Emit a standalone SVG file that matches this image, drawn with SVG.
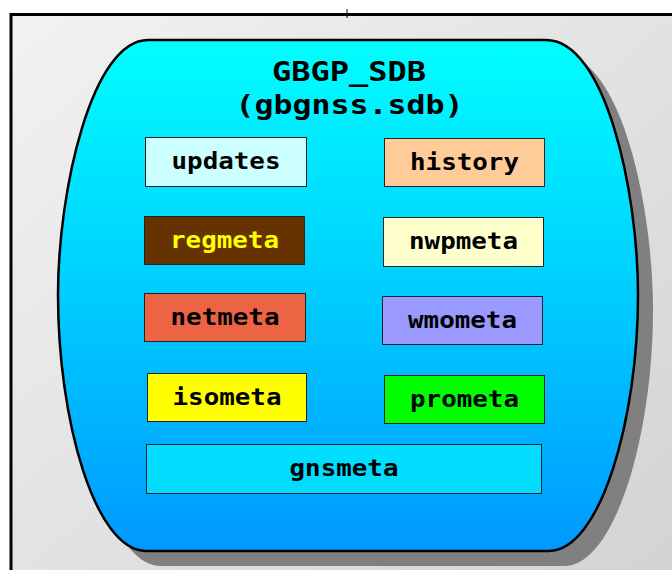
<svg xmlns="http://www.w3.org/2000/svg" width="672" height="570" viewBox="0 0 672 570">
  <defs>
    <linearGradient id="frameFill" x1="0" y1="0" x2="1" y2="1">
      <stop offset="0" stop-color="#f2f2f2"/>
      <stop offset="1" stop-color="#d2d2d2"/>
    </linearGradient>
    <linearGradient id="dbFill" x1="0" y1="0" x2="0" y2="1">
      <stop offset="0" stop-color="#00ffff"/>
      <stop offset="1" stop-color="#0099ff"/>
    </linearGradient>
    <path id="barrel" d="M148,40 L546,40 C605,40 638,190 638,295 C638,420 600,551 549,551 L146,551 C95,551 58,420 58,295 C58,190 92,40 148,40 Z"/>
  </defs>
  <style>
    .box { stroke: #222; stroke-width: 1; }
    .lbl { font-family: "DejaVu Sans Mono", "Liberation Mono", monospace; font-weight: bold; font-size: 23px; text-anchor: middle; fill: #000; }
    .title { font-family: "DejaVu Sans Mono", "Liberation Mono", monospace; font-weight: bold; font-size: 27px; text-anchor: middle; fill: #000; }
  </style>

  <!-- background frame -->
  <rect x="0" y="0" width="672" height="570" fill="#ffffff"/>
  <rect x="11" y="14.5" width="680" height="580" fill="url(#frameFill)" stroke="#000" stroke-width="3"/>
  <line x1="347" y1="9" x2="347" y2="18" stroke="#000" stroke-width="1"/>

  <!-- database container -->
  <g id="gbgp_sdb">
    <use href="#barrel" transform="translate(15,15)" fill="#808080"/>
    <use href="#barrel" fill="url(#dbFill)" stroke="#000" stroke-width="2.5"/>
    <text class="title" x="349" y="81" textLength="154" lengthAdjust="spacingAndGlyphs">GBGP_SDB</text>
    <text class="title" x="349.5" y="114" textLength="228" lengthAdjust="spacingAndGlyphs">(gbgnss.sdb)</text>
  </g>

  <!-- tables -->
  <g id="updates">
    <rect class="box" x="145.5" y="137.5" width="161" height="49" fill="#ccffff"/>
    <text class="lbl" x="226" y="169" textLength="109" lengthAdjust="spacingAndGlyphs">updates</text>
  </g>
  <g id="history">
    <rect class="box" x="384.5" y="138.5" width="160" height="48" fill="#ffcc99"/>
    <text class="lbl" x="464.5" y="170" textLength="109" lengthAdjust="spacingAndGlyphs">history</text>
  </g>
  <g id="regmeta">
    <rect class="box" x="144.5" y="216.5" width="160" height="48" fill="#663300"/>
    <text class="lbl" x="224.5" y="248" textLength="109" lengthAdjust="spacingAndGlyphs" style="fill:#ffff00">regmeta</text>
  </g>
  <g id="nwpmeta">
    <rect class="box" x="383.5" y="217.5" width="160" height="49" fill="#ffffcc"/>
    <text class="lbl" x="463.5" y="249" textLength="109" lengthAdjust="spacingAndGlyphs">nwpmeta</text>
  </g>
  <g id="netmeta">
    <rect class="box" x="144.5" y="293.5" width="161" height="48" fill="#ec6443"/>
    <text class="lbl" x="225" y="325" textLength="109" lengthAdjust="spacingAndGlyphs">netmeta</text>
  </g>
  <g id="wmometa">
    <rect class="box" x="382.5" y="296.5" width="160" height="48" fill="#9999ff"/>
    <text class="lbl" x="462.5" y="328" textLength="109" lengthAdjust="spacingAndGlyphs">wmometa</text>
  </g>
  <g id="isometa">
    <rect class="box" x="147.5" y="373.5" width="159" height="48" fill="#ffff00"/>
    <text class="lbl" x="227" y="405" textLength="109" lengthAdjust="spacingAndGlyphs">isometa</text>
  </g>
  <g id="prometa">
    <rect class="box" x="384.5" y="375.5" width="160" height="48" fill="#00ff00"/>
    <text class="lbl" x="464.5" y="407" textLength="109" lengthAdjust="spacingAndGlyphs">prometa</text>
  </g>
  <g id="gnsmeta">
    <rect class="box" x="146.5" y="444.5" width="395" height="49" fill="#00ddff"/>
    <text class="lbl" x="344" y="476" textLength="109" lengthAdjust="spacingAndGlyphs">gnsmeta</text>
  </g>
</svg>
